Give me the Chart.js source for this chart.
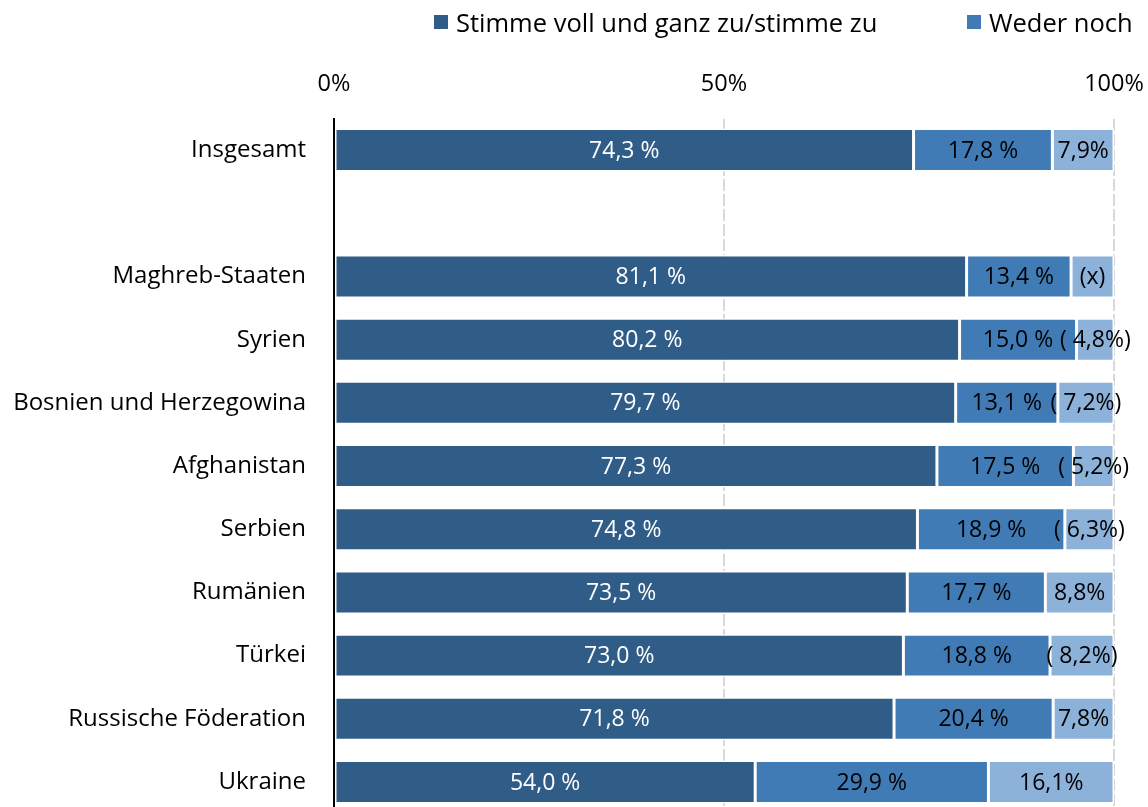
<!DOCTYPE html>
<html>
<head>
<meta charset="utf-8">
<script src="https://cdn.jsdelivr.net/npm/chart.js@4/dist/chart.umd.min.js"></script>
<style>
  html, body { margin: 0; padding: 0; background: #fff; overflow: hidden; }
  #wrap { position: relative; width: 1148px; height: 848px; }
  #legend { position: absolute; top: 5px; left: 0; font-family: "Open Sans", sans-serif; font-size: 25.5px; color: #000; }
  #legend span.item { position: absolute; white-space: nowrap; display: flex; align-items: center; }
  #legend i { display: inline-block; width: 14px; height: 14px; margin-right: 8px; }
</style>
</head>
<body>
<div id="wrap">
  <canvas id="chart" width="1148" height="848"></canvas>
  <div id="legend"></div>
</div>
<script>
const categories = [
  "Insgesamt", "", "Maghreb-Staaten", "Syrien", "Bosnien und Herzegowina",
  "Afghanistan", "Serbien", "Rumänien", "Türkei", "Russische Föderation", "Ukraine"
];
const agree   = [74.3, null, 81.1, 80.2, 79.7, 77.3, 74.8, 73.5, 73.0, 71.8, 54.0];
const neutral = [17.8, null, 13.4, 15.0, 13.1, 17.5, 18.9, 17.7, 18.8, 20.4, 29.9];
const rest    = [7.9, null, 5.5, 4.8, 7.2, 5.2, 6.3, 8.8, 8.2, 7.8, 16.1];
// "" = normal, "p" = low case count (in brackets), "x" = not reported
const restFlag = ["", "", "x", "p", "p", "p", "p", "", "p", "", ""];
const xTicks = [0, 50, 100];

const seriesNames = ["Stimme voll und ganz zu/stimme zu", "Weder noch", "Stimme nicht zu"];
const colors = ["#305d88", "#417bb6", "#8cb2d9"];
const FONT = "'Open Sans', sans-serif";

const fmt = v => v.toFixed(1).replace(".", ",");

// HTML legend (third entry falls outside the picture in the original)
const legend = document.getElementById("legend");
[[434, 0], [967, 1]].forEach(([left, i]) => {
  const s = document.createElement("span");
  s.className = "item";
  s.style.left = left + "px";
  s.innerHTML = '<i style="background:' + colors[i] + '"></i>' + seriesNames[i];
  legend.appendChild(s);
});

const barLabels = {
  id: "barLabels",
  afterDatasetsDraw(chart) {
    const ctx = chart.ctx;
    ctx.save();
    ctx.font = "23px " + FONT;
    ctx.textAlign = "center";
    ctx.textBaseline = "middle";
    chart.data.datasets.forEach((ds, di) => {
      chart.getDatasetMeta(di).data.forEach((el, i) => {
        const v = ds.data[i];
        if (v == null) return;
        let txt;
        if (di < 2) txt = fmt(v) + " %";
        else if (restFlag[i] === "x") txt = "(x)";
        else if (restFlag[i] === "p") txt = "( " + fmt(v) + "%)";
        else txt = fmt(v) + "%";
        ctx.fillStyle = di === 0 ? "#fff" : "#000";
        ctx.fillText(txt, (el.x + el.base) / 2, el.y + 1);
      });
    });
    ctx.restore();
  }
};

const mk = (i, data) => ({
  label: seriesNames[i],
  data,
  backgroundColor: colors[i],
  borderColor: "#fff",
  borderWidth: 1.5,
  borderSkipped: false,
  barPercentage: 0.68,
  categoryPercentage: 1
});

new Chart(document.getElementById("chart"), {
  type: "bar",
  data: {
    labels: categories,
    datasets: [mk(0, agree), mk(1, neutral), mk(2, rest)]
  },
  options: {
    indexAxis: "y",
    responsive: false,
    animation: false,
    layout: { padding: { left: 0, right: 34, top: 0, bottom: 0 } },
    plugins: { legend: { display: false }, tooltip: { enabled: false } },
    scales: {
      x: {
        position: "top",
        stacked: true,
        min: 0,
        max: 100,
        afterBuildTicks: s => { s.ticks = xTicks.map(v => ({ value: v })); },
        afterFit: s => { s.height = 118.5; s.paddingRight = 0; s.paddingLeft = 0; },
        ticks: {
          padding: 20,
          color: "#000",
          font: { family: FONT, size: 23.5 },
          callback: v => v + "%"
        },
        grid: { color: "#d9d9d9", lineWidth: 2, drawTicks: false },
        border: { display: false, dash: [12, 3] }
      },
      y: {
        stacked: true,
        afterFit: s => { s.width = 334; },
        ticks: {
          padding: 20,
          color: "#000",
          font: { family: FONT, size: 24 }
        },
        grid: { display: false },
        border: { display: true, color: "#000", width: 2 }
      }
    }
  },
  plugins: [barLabels]
});
</script>
</body>
</html>
